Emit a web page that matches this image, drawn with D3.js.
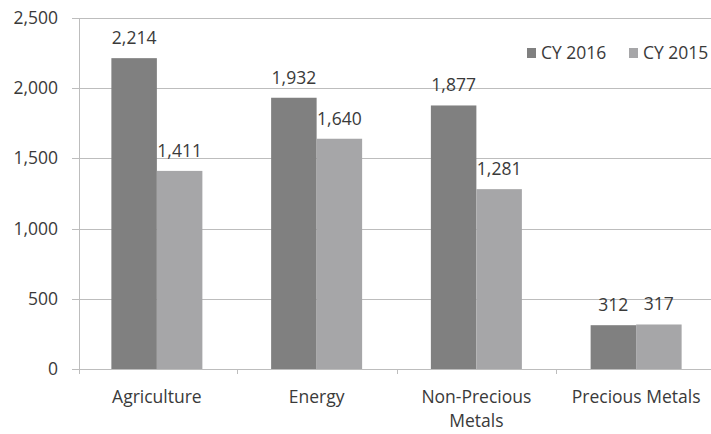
<!DOCTYPE html>
<html><head><meta charset="utf-8">
<script src="https://cdn.jsdelivr.net/npm/d3@7"></script>
<style>body{margin:0;background:#fff}svg{display:block}</style>
</head><body>
<svg id="c" width="711" height="434"></svg>
<script>
const categories = [["Agriculture"], ["Energy"], ["Non-Precious", "Metals"], ["Precious Metals"]];
const seriesNames = ["CY 2016", "CY 2015"];
const cy2016 = [2214, 1932, 1877, 312];
const cy2015 = [1411, 1640, 1281, 317];
const yTicks = [0, 500, 1000, 1500, 2000, 2500];
const colors = ["#808080", "#a6a6a8"];

const svg = d3.select("#c");
const font = "'Open Sans', sans-serif";
const fs = 17.5;
const textColor = "#3a3a3a";
const y = d3.scaleLinear().domain([0, 2500]).range([369, 18]);
const x0 = d3.scaleBand().domain(d3.range(categories.length)).range([77, 716]);
const x1 = d3.scaleBand().domain([0, 1]).range([0, 91]);
const off = (x0.bandwidth() - 91) / 2;

// gridlines
svg.append("g").selectAll("line").data(yTicks).join("line")
  .attr("x1", 72).attr("x2", 711)
  .attr("y1", d => Math.round(y(d)) + 0.5).attr("y2", d => Math.round(y(d)) + 0.5)
  .attr("stroke", "#bdbdbd").attr("stroke-width", 1);
// y axis line
svg.append("line").attr("x1", 79.5).attr("x2", 79.5).attr("y1", y(2500)).attr("y2", y(0) + 5)
  .attr("stroke", "#bdbdbd");
// category ticks
svg.append("g").selectAll("line").data(d3.range(1, categories.length)).join("line")
  .attr("x1", d => Math.round(x0(d)) + 0.5).attr("x2", d => Math.round(x0(d)) + 0.5)
  .attr("y1", y(0)).attr("y2", y(0) + 5).attr("stroke", "#bdbdbd");

// y labels
svg.append("g").selectAll("text").data(yTicks).join("text")
  .attr("x", 58).attr("y", d => y(d) + 6).attr("text-anchor", "end")
  .attr("font-family", font).attr("font-size", fs).attr("fill", textColor)
  .text(d => d3.format(",")(d));

const series = [cy2016, cy2015];
series.forEach((vals, si) => {
  const g = svg.append("g");
  g.selectAll("rect").data(vals).join("rect")
    .attr("x", (d, i) => x0(i) + off + x1(si))
    .attr("width", x1.bandwidth())
    .attr("y", d => y(d)).attr("height", d => y(0) - y(d))
    .attr("fill", colors[si]);
  g.selectAll("text").data(vals).join("text")
    .attr("x", (d, i) => x0(i) + off + x1(si) + x1.bandwidth() / 2)
    .attr("y", d => y(d) - 14).attr("text-anchor", "middle")
    .attr("font-family", font).attr("font-size", fs).attr("fill", textColor)
    .text(d => d3.format(",")(d));
});

// category labels
const cl = svg.append("g").selectAll("text").data(categories).join("text")
  .attr("x", (d, i) => x0(i) + x0.bandwidth() / 2).attr("y", 403)
  .attr("text-anchor", "middle").attr("font-family", font).attr("font-size", fs).attr("fill", textColor);
cl.selectAll("tspan").data(d => d).join("tspan")
  .attr("x", function () { return d3.select(this.parentNode).attr("x"); })
  .attr("dy", (d, i) => i === 0 ? 0 : 24).text(d => d);

// legend
const leg = svg.append("g");
const legX = [527, 629];
seriesNames.forEach((n, i) => {
  leg.append("rect").attr("x", legX[i]).attr("y", 48).attr("width", 9).attr("height", 10).attr("fill", colors[i]);
  leg.append("text").attr("x", legX[i] + 14).attr("y", 59).attr("font-family", font).attr("font-size", fs)
    .attr("fill", textColor).text(n);
});
</script>
</body></html>
